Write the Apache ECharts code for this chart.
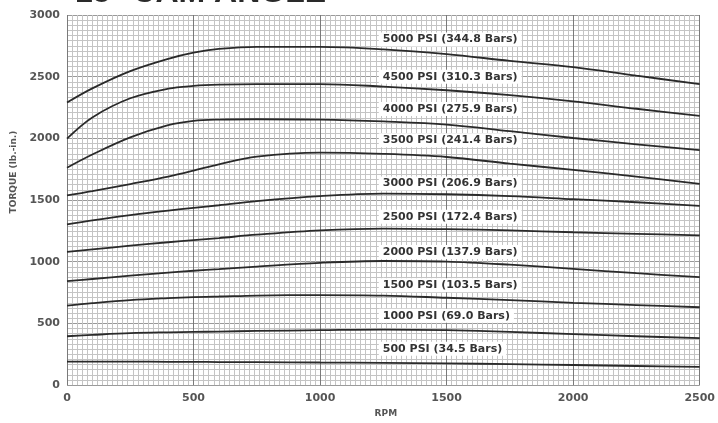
<!DOCTYPE html>
<html>
<head>
<meta charset="utf-8">
<title>Torque vs RPM</title>
<script src="https://cdn.jsdelivr.net/npm/echarts@6/dist/echarts.min.js"></script>
<style>
  html, body { margin: 0; padding: 0; background: #ffffff; }
  #chart { width: 718px; height: 423px; }
</style>
</head>
<body>
<div id="chart"></div>
<script>
// Shaft speed sample points (RPM) shared by every pressure curve
const rpm = [0, 100, 250, 400, 500, 600, 750, 1000, 1250, 1500, 1750, 2000, 2250, 2500];

// Torque (lb.-in.) for each supply pressure
const psi5000 = [2290, 2405, 2545, 2645, 2695, 2725, 2742, 2742, 2722, 2683, 2628, 2578, 2508, 2440];
const psi4500 = [1998, 2170, 2325, 2403, 2425, 2435, 2440, 2440, 2420, 2390, 2350, 2300, 2240, 2182];
const psi4000 = [1762, 1869, 2008, 2107, 2142, 2152, 2155, 2152, 2137, 2112, 2058, 2003, 1952, 1904];
const psi3500 = [1537, 1572, 1630, 1690, 1738, 1790, 1852, 1884, 1874, 1849, 1795, 1745, 1690, 1631];
const psi3000 = [1303, 1335, 1378, 1415, 1437, 1458, 1492, 1532, 1552, 1547, 1532, 1507, 1482, 1452];
const psi2500 = [1080, 1100, 1130, 1158, 1175, 1192, 1219, 1254, 1269, 1264, 1254, 1239, 1226, 1214];
const psi2000 = [842, 860, 887, 912, 927, 940, 961, 991, 1006, 1001, 976, 942, 907, 875];
const psi1500 = [644, 664, 689, 705, 713, 718, 726, 730, 726, 708, 689, 667, 649, 631];
const psi1000 = [396, 407, 421, 428, 431, 434, 439, 445, 450, 445, 431, 413, 396, 381];
const psi500  = [190, 190, 190, 189, 188, 187, 186, 183, 180, 176, 170, 163, 155, 148];

// Curve captions, in the same order as the curves
const curveNames = [
  '5000 PSI (344.8 Bars)', '4500 PSI (310.3 Bars)', '4000 PSI (275.9 Bars)',
  '3500 PSI (241.4 Bars)', '3000 PSI (206.9 Bars)', '2500 PSI (172.4 Bars)',
  '2000 PSI (137.9 Bars)', '1500 PSI (103.5 Bars)', '1000 PSI (69.0 Bars)',
  '500 PSI (34.5 Bars)'
];
const curves = [psi5000, psi4500, psi4000, psi3500, psi3000, psi2500, psi2000, psi1500, psi1000, psi500];

// Torque level at which each caption sits, and the RPM where captions start
const captionTorque = [2802, 2500, 2238, 1984, 1635, 1365, 1079, 810, 563, 294];
const captionRpm = 1230;

// Axis ticks
const xTicks = [0, 500, 1000, 1500, 2000, 2500];
const yTicks = [0, 500, 1000, 1500, 2000, 2500, 3000];

const chart = echarts.init(document.getElementById('chart'), null, { renderer: 'canvas' });

const labelFont = 'DejaVu Sans';

const series = curves.map((vals, i) => ({
  type: 'line',
  name: curveNames[i],
  data: rpm.map((r, k) => [r, vals[k]]),
  smooth: 0.35,
  showSymbol: false,
  symbol: 'none',
  silent: true,
  z: 3,
  lineStyle: { color: '#2a2a2a', width: 1.8 },
  markPoint: {
    silent: true,
    symbol: 'rect',
    symbolSize: 1,
    itemStyle: { color: 'rgba(0,0,0,0)' },
    label: {
      show: true,
      position: 'right',
      distance: 0,
      formatter: curveNames[i],
      fontFamily: labelFont,
      fontSize: 11,
      fontWeight: 'bold',
      color: '#333333',
      backgroundColor: '#ffffff',
      padding: [2, 4, 1, 4]
    },
    data: [{ coord: [captionRpm, captionTorque[i]] }]
  }
}));

chart.setOption({
  animation: false,
  backgroundColor: '#ffffff',
  grid: { left: 67, right: 18, top: 15, bottom: 30, containLabel: false },
  xAxis: {
    type: 'value',
    min: xTicks[0],
    max: xTicks[xTicks.length - 1],
    interval: 500,
    name: 'RPM',
    nameLocation: 'middle',
    nameGap: 18,
    nameTextStyle: { fontFamily: labelFont, fontSize: 9, fontWeight: 'bold', color: '#555555', padding: [0, 0, 0, 5] },
    axisLine: { show: false },
    axisTick: { show: false },
    axisLabel: {
      margin: 8,
      fontFamily: labelFont, fontSize: 11, fontWeight: 'bold', color: '#555555',
      formatter: v => String(v)
    },
    splitLine: { show: true, lineStyle: { color: '#7a7a7a', width: 1 } },
    minorTick: { show: false, splitNumber: 25 },
    minorSplitLine: { show: true, lineStyle: { color: '#c4c4c4', width: 1 } }
  },
  yAxis: {
    type: 'value',
    min: yTicks[0],
    max: yTicks[yTicks.length - 1],
    interval: 500,
    axisLine: { show: false },
    axisTick: { show: false },
    axisLabel: {
      margin: 7,
      padding: [0, 0, 5, 0],
      fontFamily: labelFont, fontSize: 11, fontWeight: 'bold', color: '#555555',
      formatter: v => String(v)
    },
    splitLine: { show: true, lineStyle: { color: '#9a9a9a', width: 1 } },
    minorTick: { show: false, splitNumber: 12 },
    minorSplitLine: { show: true, lineStyle: { color: '#c4c4c4', width: 1 } }
  },
  graphic: [
    {
      type: 'text',
      left: 75,
      top: -23,
      silent: true,
      style: {
        text: '15° CAM ANGLE',
        font: 'bold 32px "Liberation Sans", Arial, sans-serif',
        fill: '#2a2a2a'
      }
    },
    {
      type: 'text',
      x: 14,
      y: 172,
      rotation: Math.PI / 2,
      silent: true,
      style: {
        text: 'TORQUE (lb.-in.)',
        font: 'bold 9px "DejaVu Sans", sans-serif',
        fill: '#555555',
        align: 'center',
        verticalAlign: 'middle'
      }
    }
  ],
  series: series
});
</script>
</body>
</html>
